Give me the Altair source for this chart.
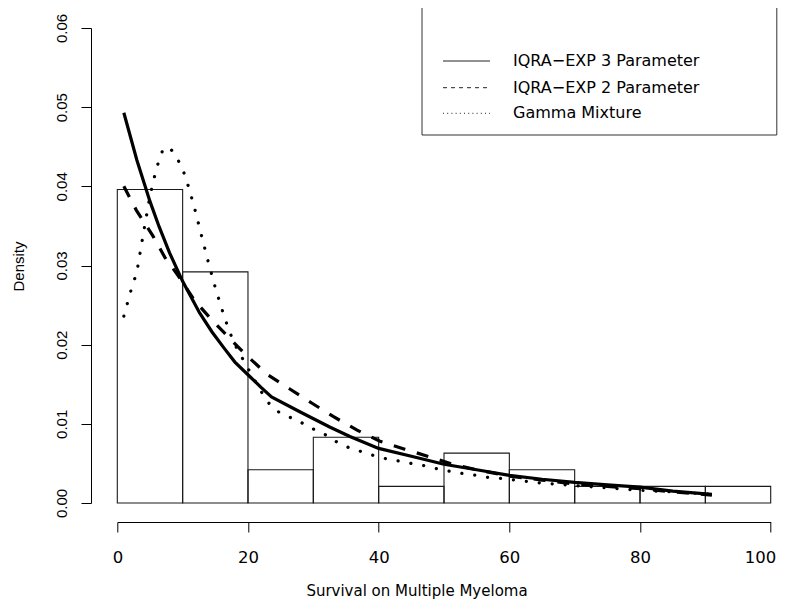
import altair as alt
import pandas as pd

# ---------------- data ----------------
bin_start = [0, 10, 20, 30, 40, 50, 60, 70, 80, 90]
bin_end = [10, 20, 30, 40, 50, 60, 70, 80, 90, 100]
bin_density = [0.0396, 0.0292, 0.0042, 0.0083, 0.0021, 0.0063, 0.0042, 0.0021, 0.0021, 0.0021]

# IQRA-EXP 3 Parameter (solid)
exp3_x = [1, 3, 5, 6.4, 8, 10, 12.6, 14.5, 16.4, 18, 20, 22, 23.6, 28, 32.5, 35.6,
          40, 45, 50, 55, 60, 65, 70, 75, 80, 85, 91]
exp3_y = [0.0493, 0.0433, 0.0381, 0.0349, 0.0316, 0.0280, 0.0240, 0.0216, 0.0195, 0.0178,
          0.0162, 0.0146, 0.0134, 0.0115, 0.0096, 0.0084, 0.0069, 0.0059, 0.0049, 0.0042,
          0.0035, 0.0030, 0.0026, 0.0023, 0.0020, 0.0015, 0.0011]

# IQRA-EXP 2 Parameter (dashed)
exp2_x = [1, 2.9, 5.4, 7.3, 9.25, 11.8, 14.5, 17.3, 20.1, 23, 26.4, 29.8, 33.1, 36.7,
          40.2, 44, 47.9, 51.7, 55, 60, 65, 70, 75, 80, 85, 91]
exp2_y = [0.0400, 0.0370, 0.0338, 0.0310, 0.0288, 0.0256, 0.0231, 0.0207, 0.0184, 0.0162,
          0.0144, 0.0126, 0.0109, 0.0092, 0.0078, 0.0068, 0.0058, 0.0048, 0.0042, 0.0034,
          0.0029, 0.0024, 0.0021, 0.0018, 0.0014, 0.0010]

# Gamma Mixture (dotted)
gam_x = [1, 2, 3, 4, 5, 6, 7, 8, 9, 10, 11, 12, 13, 14, 15, 16, 17, 18, 19, 20, 22, 23.2,
         24.7, 26.5, 28.3, 30.1, 31.9, 33.6, 35.4, 37.3, 39.2, 41.1, 43.1, 45, 47.1, 49,
         50.9, 53, 54.9, 57, 58.9, 60.9, 65, 70, 75, 80, 85, 91]
gam_y = [0.0236, 0.0266, 0.0292, 0.0341, 0.0388, 0.0423, 0.0447, 0.0449, 0.0438, 0.0422,
         0.0397, 0.0367, 0.0334, 0.0302, 0.0272, 0.0245, 0.0220, 0.0200, 0.0185, 0.0170,
         0.0141, 0.0126, 0.0115, 0.0108, 0.0101, 0.0093, 0.0086, 0.0077, 0.0070, 0.0065,
         0.0060, 0.0056, 0.0053, 0.0050, 0.0047, 0.0043, 0.0040, 0.0037, 0.0035, 0.0032,
         0.0031, 0.0029, 0.0025, 0.0022, 0.0019, 0.0016, 0.0014, 0.0011]

legend_labels = ["IQRA\u2212EXP 3 Parameter", "IQRA\u2212EXP 2 Parameter", "Gamma Mixture"]
x_ticks = [0, 20, 40, 60, 80, 100]
y_ticks = [0.00, 0.01, 0.02, 0.03, 0.04, 0.05, 0.06]
x_title = "Survival on Multiple Myeloma"
y_title = "Density"

# ---------------- layout ----------------
W, H = 653.4, 475
HFONT = "DejaVu Sans"
VFONT = "Liberation Sans"

hist_df = pd.DataFrame({"start": bin_start, "end": bin_end, "density": bin_density,
                        "zero": [0.0] * len(bin_start)})
exp3_df = pd.DataFrame({"x": exp3_x, "y": exp3_y})
exp2_df = pd.DataFrame({"x": exp2_x, "y": exp2_y})
gam_df = pd.DataFrame({"x": gam_x, "y": gam_y})

xs = alt.Scale(domain=[0, 100], nice=False, zero=False)
ys = alt.Scale(domain=[0, 0.06], nice=False)

x_axis = alt.Axis(values=x_ticks, format="d", grid=False, offset=19, tickSize=10,
                  domainColor="black", tickColor="black", domainWidth=1, tickWidth=1,
                  labelFont=HFONT, labelFontSize=16.5, labelColor="black", labelPadding=17,
                  labelFlush=True, labelFlushOffset=5, labelOverlap=False,
                  titleFont=HFONT, titleFontSize=15, titleFontWeight="normal",
                  titleColor="black", titleX=299.2, titleY=73, titleAlign="center",
                  titleBaseline="alphabetic")
y_axis = alt.Axis(values=y_ticks, format=".2f", grid=False, offset=26.3, tickSize=10,
                  domainColor="black", tickColor="black", domainWidth=1, tickWidth=1,
                  labelFont=VFONT, labelFontSize=15, labelColor="black", labelPadding=12,
                  labelAngle=270, labelAlign="center", labelBaseline="bottom",
                  labelOverlap=False,
                  titleFont=VFONT, titleFontSize=15, titleFontWeight="normal",
                  titleColor="black", titleAngle=270, titleX=-73, titleY=H / 2 + 0.5,
                  titleAlign="center", titleBaseline="middle")

bars = alt.Chart(hist_df).mark_rect(fill="white", fillOpacity=0, stroke="#1a1a1a",
                                    strokeWidth=1.1).encode(
    x=alt.X("start:Q", scale=xs, axis=x_axis, title=x_title),
    x2="end:Q",
    y=alt.Y("density:Q", scale=ys, axis=y_axis, title=y_title),
    y2="zero:Q",
)

line3 = alt.Chart(exp3_df).mark_line(color="black", strokeWidth=3.2).encode(
    x=alt.X("x:Q", scale=xs), y=alt.Y("y:Q", scale=ys))
line2 = alt.Chart(exp2_df).mark_line(color="black", strokeWidth=3.2,
                                     strokeDash=[12, 12]).encode(
    x=alt.X("x:Q", scale=xs), y=alt.Y("y:Q", scale=ys))
lineg = alt.Chart(gam_df).mark_line(color="black", strokeWidth=3.2, strokeCap="round",
                                    strokeDash=[0.1, 12.9]).encode(
    x=alt.X("x:Q", scale=xs), y=alt.Y("y:Q", scale=ys))

# ---------------- legend (drawn in pixel space) ----------------
one = pd.DataFrame({"k": [0]})
box = alt.Chart(one).mark_rect(fill="white", fillOpacity=0, stroke="#333",
                               strokeWidth=1).encode(
    x=alt.value(304.7), x2=alt.value(659.5), y=alt.value(-20.7), y2=alt.value(107))

row_y = [33, 59.7, 85.3]
dashes = [[1, 0], [4, 4], [1, 3.2]]
legend_layers = []
for i, lab in enumerate(legend_labels):
    legend_layers.append(
        alt.Chart(one).mark_rule(color="#222", strokeWidth=1, strokeDash=dashes[i]).encode(
            x=alt.value(325.7), x2=alt.value(372.7), y=alt.value(row_y[i])))
    legend_layers.append(
        alt.Chart(pd.DataFrame({"label": [lab]})).mark_text(
            align="left", baseline="middle", font=HFONT, fontSize=16, color="black").encode(
            x=alt.value(395.7), y=alt.value(row_y[i]), text="label:N"))

chart = alt.layer(bars, line3, line2, lineg, box, *legend_layers).properties(
    width=W, height=H,
    padding={"left": 109.3, "top": 20, "right": 7.3, "bottom": 96},
    autosize=alt.AutoSizeParams(type="none"),
).configure(background="white").configure_view(stroke=None)

chart.save("out.html", embed_options={"renderer": "svg", "actions": False})
